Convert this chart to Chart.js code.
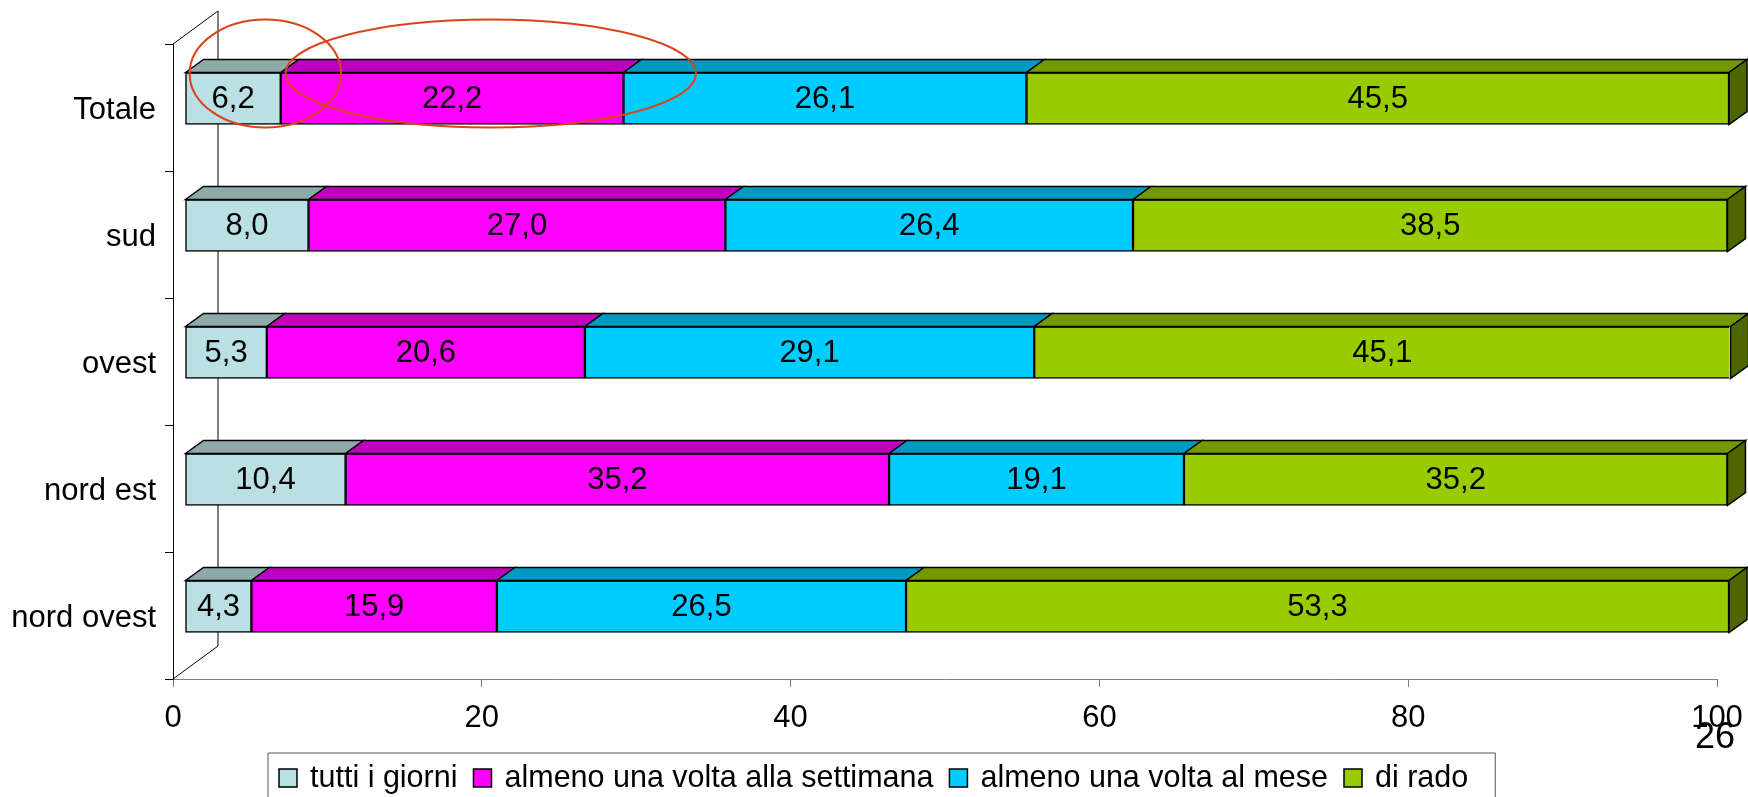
<!DOCTYPE html>
<html>
<head>
<meta charset="utf-8">
<script src="https://cdn.jsdelivr.net/npm/chart.js@4.4.0/dist/chart.umd.min.js"></script>
<style>
    html, body { margin: 0; padding: 0; background: #fff; }
</style>
</head>
<body>
<canvas id="chart" width="1748" height="797"></canvas>
<script>
const regions = ['Totale', 'sud', 'ovest', 'nord est', 'nord ovest'];
const tuttiGiorni = [6.2, 8.0, 5.3, 10.4, 4.3];
const almenoSettimana = [22.2, 27.0, 20.6, 35.2, 15.9];
const almenoMese = [26.1, 26.4, 29.1, 19.1, 26.5];
const diRado = [45.5, 38.5, 45.1, 35.2, 53.3];
const seriesNames = ['tutti i giorni', 'almeno una volta alla settimana', 'almeno una volta al mese', 'di rado'];
const xTicks = [0, 20, 40, 60, 80, 100];
const pageNumber = '26';

const frontColors = ['#BBE0E3', '#FF00FF', '#00CCFF', '#99CC00'];
const topColors = ['#8DA9AA', '#BF00BF', '#0099BF', '#739900'];
const sideColors = ['#5E7172', '#800080', '#006680', '#4D6600'];

// red hand-drawn circles on the "Totale" bar (value ranges on the x axis)
const highlights = [[0.3, 10.1], [6.5, 33.1]];

const FONT = 'Liberation Sans, Arial, sans-serif';
const WALL_DX = 45, WALL_DY = -33;   // depth of the chart floor
const BAR_DX = 12, BAR_DY = -9;      // where the bar front sits inside that depth
const TOP_DX = 18, TOP_DY = -13;     // bar thickness in depth

function fmt(v) {
    return v.toFixed(1).replace('.', ',');
}

const depth3d = {
    id: 'depth3d',
    beforeDatasetsDraw(chart) {
        const {ctx, chartArea: a} = chart;
        ctx.save();
        ctx.strokeStyle = '#000';
        ctx.lineWidth = 1;
        ctx.beginPath();
        ctx.moveTo(a.left, a.top);
        ctx.lineTo(a.left + WALL_DX, a.top + WALL_DY);
        ctx.lineTo(a.left + WALL_DX, a.bottom + WALL_DY);
        ctx.lineTo(a.left, a.bottom);
        ctx.stroke();
        ctx.restore();
        ctx.save();
        ctx.translate(BAR_DX, BAR_DY);
    },
    afterDatasetsDraw(chart) {
        const ctx = chart.ctx;
        const n = chart.data.datasets.length;
        ctx.lineWidth = 1.5;
        ctx.strokeStyle = '#000';
        ctx.lineJoin = 'miter';
        for (let d = 0; d < n; d++) {
            const meta = chart.getDatasetMeta(d);
            meta.data.forEach(el => {
                const x0 = el.base, x1 = el.x;
                const top = el.y - el.height / 2, bottom = el.y + el.height / 2;
                // top face
                ctx.beginPath();
                ctx.moveTo(x0, top);
                ctx.lineTo(x0 + TOP_DX, top + TOP_DY);
                ctx.lineTo(x1 + TOP_DX, top + TOP_DY);
                ctx.lineTo(x1, top);
                ctx.closePath();
                ctx.fillStyle = topColors[d];
                ctx.fill();
                ctx.stroke();
                // side face only at the end of the stack
                if (d === n - 1) {
                    ctx.beginPath();
                    ctx.moveTo(x1, top);
                    ctx.lineTo(x1 + TOP_DX, top + TOP_DY);
                    ctx.lineTo(x1 + TOP_DX, bottom + TOP_DY);
                    ctx.lineTo(x1, bottom);
                    ctx.closePath();
                    ctx.fillStyle = sideColors[d];
                    ctx.fill();
                    ctx.stroke();
                }
            });
        }
        // value labels
        ctx.fillStyle = '#000';
        ctx.font = '31px ' + FONT;
        ctx.textAlign = 'center';
        ctx.textBaseline = 'middle';
        for (let d = 0; d < n; d++) {
            const meta = chart.getDatasetMeta(d);
            const values = chart.data.datasets[d].data;
            meta.data.forEach((el, i) => {
                ctx.fillText(fmt(values[i]), (el.base + el.x) / 2, el.y + 1);
            });
        }
        ctx.restore();
    },
    afterDraw(chart) {
        const ctx = chart.ctx;
        const xs = chart.scales.x, ys = chart.scales.y;
        ctx.save();

        // highlight ellipses around the Totale bar
        ctx.strokeStyle = '#D9441A';
        ctx.lineWidth = 2;
        const cy = ys.getPixelForValue(0) + BAR_DY - 25;
        highlights.forEach(h => {
            const l = xs.getPixelForValue(h[0]) + BAR_DX;
            const r = xs.getPixelForValue(h[1]) + BAR_DX;
            ctx.beginPath();
            ctx.ellipse((l + r) / 2, cy, (r - l) / 2, 54, 0, 0, Math.PI * 2);
            ctx.stroke();
        });

        // legend
        ctx.font = '30.5px ' + FONT;
        ctx.textBaseline = 'middle';
        ctx.textAlign = 'left';
        const sq = 18, gapText = 13, gapItem = 16;
        let boxLeft = 268, boxTop = 753;
        let x = boxLeft + 11;
        const cyL = 778;
        chart.data.datasets.forEach((ds, i) => {
            ctx.fillStyle = ds.backgroundColor;
            ctx.fillRect(x, cyL - sq / 2, sq, sq);
            ctx.strokeStyle = '#000';
            ctx.lineWidth = 1.5;
            ctx.strokeRect(x, cyL - sq / 2, sq, sq);
            x += sq + gapText;
            ctx.fillStyle = '#000';
            ctx.fillText(ds.label, x, cyL + 1);
            x += ctx.measureText(ds.label).width;
            if (i < chart.data.datasets.length - 1) x += gapItem;
        });
        x += 27;
        ctx.strokeStyle = '#555';
        ctx.lineWidth = 1;
        ctx.beginPath();
        ctx.moveTo(boxLeft, 800);
        ctx.lineTo(boxLeft, boxTop);
        ctx.lineTo(x, boxTop);
        ctx.lineTo(x, 800);
        ctx.stroke();

        // page number
        ctx.fillStyle = '#000';
        ctx.font = '36px ' + FONT;
        ctx.textAlign = 'center';
        ctx.fillText(pageNumber, xs.getPixelForValue(100) - 2, 738);
        ctx.restore();
    }
};

const ctx = document.getElementById('chart').getContext('2d');
const seriesData = [tuttiGiorni, almenoSettimana, almenoMese, diRado];

const chart = new Chart(ctx, {
    type: 'bar',
    data: {
        labels: regions,
        datasets: seriesData.map((values, i) => ({
            label: seriesNames[i],
            data: values,
            backgroundColor: frontColors[i],
            borderColor: '#000',
            borderWidth: 1.5,
            borderSkipped: false,
            barThickness: 52
        }))
    },
    options: {
        indexAxis: 'y',
        responsive: false,
        animation: false,
        layout: {
            padding: {top: 44, right: 31, left: 0, bottom: 0}
        },
        plugins: {
            legend: {display: false},
            tooltip: {enabled: false}
        },
        scales: {
            x: {
                stacked: true,
                min: 0,
                max: 100,
                afterBuildTicks: scale => {
                    scale.ticks = xTicks.map(v => ({value: v}));
                },
                afterFit: scale => {
                    scale.height = 118;
                    scale.paddingLeft = 0;
                    scale.paddingRight = 0;
                },
                grid: {drawOnChartArea: false, tickLength: 8, color: '#808080'},
                border: {color: '#808080'},
                ticks: {
                    color: '#000',
                    padding: 13,
                    maxRotation: 0,
                    font: {family: FONT, size: 31}
                }
            },
            y: {
                stacked: true,
                afterFit: scale => {
                    scale.width = 173;
                    scale.paddingTop = 0;
                    scale.paddingBottom = 0;
                },
                grid: {drawOnChartArea: false, tickLength: 8, color: '#000', offset: true},
                border: {color: '#000'},
                ticks: {
                    color: '#000',
                    padding: 9,
                    labelOffset: 3,
                    font: {family: FONT, size: 31}
                }
            }
        }
    },
    plugins: [depth3d]
});
</script>
</body>
</html>
